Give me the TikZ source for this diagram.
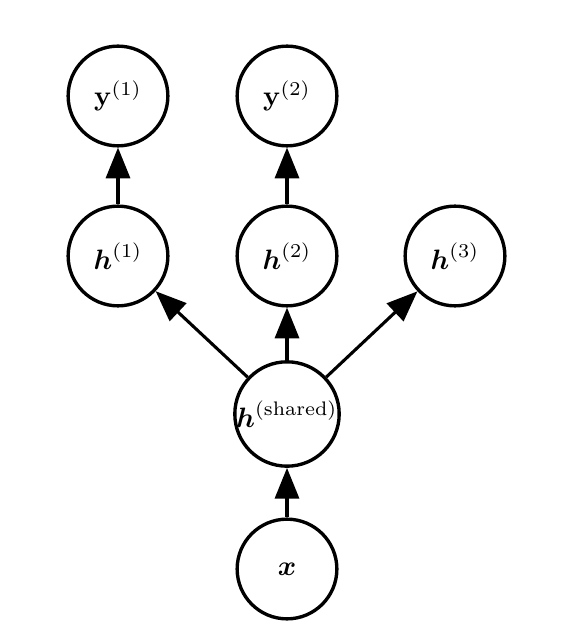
\documentclass[tikz,border=0pt]{standalone}
\usepackage{amsmath}
\usetikzlibrary{arrows.meta}
\begin{document}
\begin{tikzpicture}[x=0.357pt,y=-0.357pt,
  unit/.style={circle,draw,line width=1.2pt,minimum size=35.6pt,inner sep=0pt,fill=white},
  conn/.style={line width=1.1pt,-{Triangle[length=11pt,width=8.6pt]}}]
\useasboundingbox (0,0) rectangle (566,640);
\node[unit] (y1) at (118,96) {$\mathbf{y}^{(1)}$};
\node[unit] (y2) at (287,96) {$\mathbf{y}^{(2)}$};
\node[unit] (h1) at (118,256) {$\boldsymbol{h}^{(1)}$};
\node[unit] (h2) at (287,256) {$\boldsymbol{h}^{(2)}$};
\node[unit] (h3) at (455,256) {$\boldsymbol{h}^{(3)}$};
\node[unit] (hs) at (287,414) {$\boldsymbol{h}^{(\text{shared})}$};
\node[unit] (x) at (287,569) {$\boldsymbol{x}$};
\draw[conn] (h1) -- (y1);
\draw[conn] (h2) -- (y2);
\draw[conn] (hs) -- (h1);
\draw[conn] (hs) -- (h2);
\draw[conn] (hs) -- (h3);
\draw[conn] (x) -- (hs);
\end{tikzpicture}
\end{document}
